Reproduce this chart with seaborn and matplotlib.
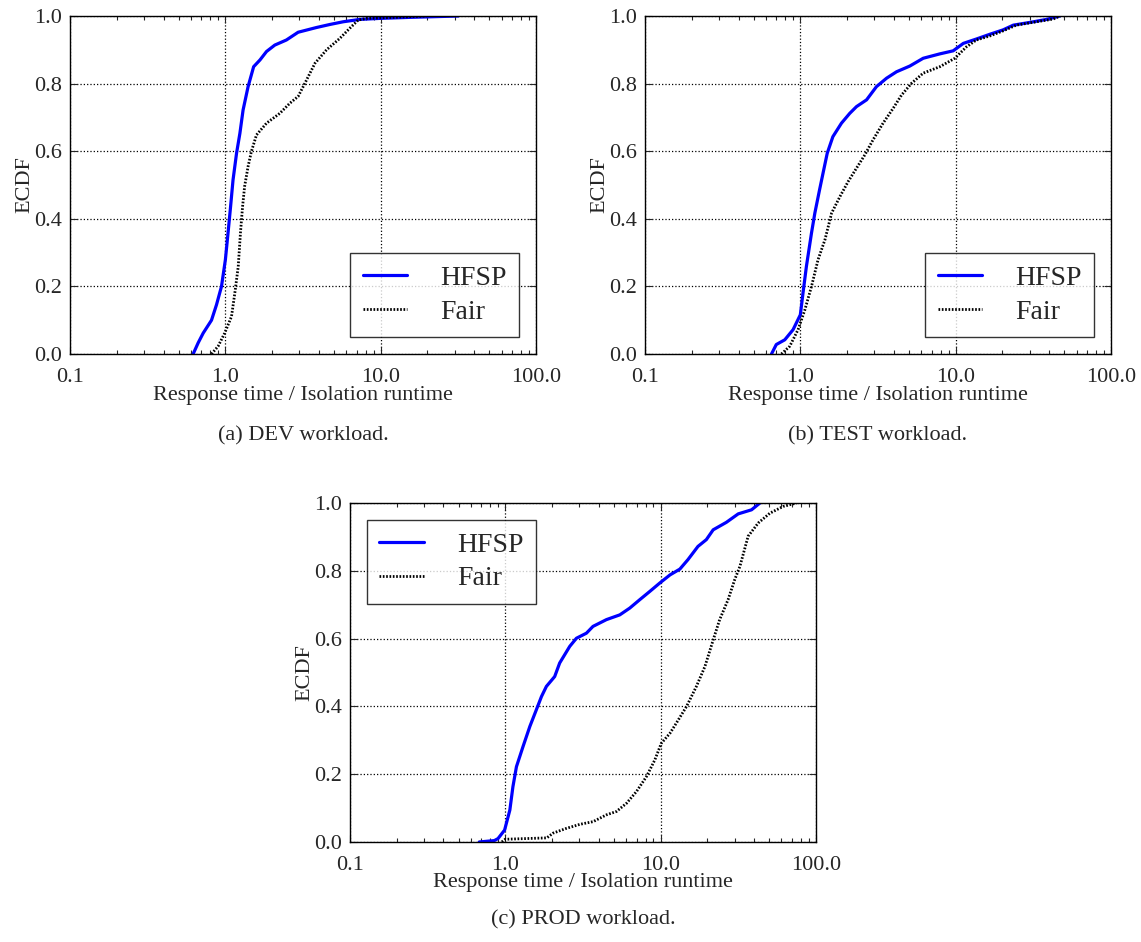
import pandas as pd
import matplotlib
matplotlib.use("Agg")
import matplotlib.pyplot as plt
import seaborn as sns
from matplotlib.ticker import FixedLocator, LogLocator, NullFormatter

# ECDF curves: ratio (response time / isolation runtime) vs ECDF
dev_hfsp_x = [0.62, 0.668, 0.72, 0.814, 0.877, 0.944, 1.0, 1.04, 1.08, 1.12, 1.18, 1.24, 1.30, 1.40, 1.52,
              1.67, 1.84, 2.08, 2.47, 2.94, 3.86, 4.71, 5.74, 7.35, 9.9, 15.4, 31.6]
dev_hfsp_y = [0.0, 0.033, 0.062, 0.10, 0.146, 0.20, 0.279, 0.358, 0.436, 0.515, 0.594, 0.653, 0.722, 0.791, 0.850,
              0.870, 0.895, 0.914, 0.929, 0.952, 0.966, 0.975, 0.983, 0.990, 0.993, 0.996, 1.0]
dev_fair_x = [0.814, 0.898, 0.99, 1.095, 1.15, 1.21, 1.25, 1.29, 1.33, 1.40, 1.47, 1.585, 1.84, 2.24, 2.60,
              2.94, 3.25, 3.77, 4.48, 5.46, 6.33, 7.16, 8.11, 12.0, 19.7]
dev_fair_y = [0.0, 0.023, 0.062, 0.111, 0.18, 0.259, 0.358, 0.436, 0.496, 0.555, 0.599, 0.648, 0.683, 0.712, 0.742,
              0.762, 0.801, 0.860, 0.900, 0.934, 0.964, 0.988, 0.993, 0.996, 1.0]

test_hfsp_x = [0.652, 0.70, 0.794, 0.898, 1.0, 1.04, 1.094, 1.18, 1.24, 1.33, 1.40, 1.49, 1.62, 1.84, 2.08, 2.30,
               2.67, 3.09, 3.59, 4.16, 5.07, 6.18, 7.91, 9.64, 11.2, 13.6, 16.6, 20.2, 23.5, 30.0, 38.5, 46.9]
test_hfsp_y = [0.0, 0.028, 0.042, 0.072, 0.116, 0.18, 0.259, 0.358, 0.417, 0.486, 0.535, 0.594, 0.643, 0.683, 0.712,
               0.732, 0.752, 0.791, 0.816, 0.835, 0.852, 0.875, 0.888, 0.897, 0.919, 0.932, 0.946, 0.959, 0.973,
               0.981, 0.990, 1.0]
test_fair_x = [0.755, 0.855, 0.967, 1.07, 1.18, 1.30, 1.44, 1.59, 1.80, 2.03, 2.30, 2.60, 2.94, 3.41, 3.96, 4.48,
               5.20, 6.18, 7.91, 9.88, 11.75, 13.6, 16.6, 20.2, 24.6, 33.2, 42.5, 46.9]
test_fair_y = [0.0, 0.023, 0.072, 0.131, 0.20, 0.279, 0.338, 0.417, 0.466, 0.510, 0.550, 0.589, 0.634, 0.683, 0.727,
               0.766, 0.801, 0.831, 0.850, 0.875, 0.909, 0.929, 0.941, 0.956, 0.973, 0.983, 0.991, 1.0]

prod_hfsp_x = [0.68, 0.85, 0.898, 0.99, 1.07, 1.12, 1.18, 1.30, 1.44, 1.585, 1.71, 1.84, 2.08, 2.24, 2.60, 2.87,
               3.33, 3.67, 4.48, 5.46, 6.33, 7.35, 8.51, 9.88, 11.5, 13.3, 15.0, 17.4, 19.7, 21.8, 26.5, 31.6,
               38.5, 43.6]
prod_hfsp_y = [0.0, 0.004, 0.01, 0.035, 0.094, 0.163, 0.222, 0.281, 0.341, 0.390, 0.429, 0.459, 0.488, 0.528,
               0.577, 0.601, 0.616, 0.636, 0.656, 0.670, 0.690, 0.715, 0.739, 0.764, 0.788, 0.805, 0.833, 0.872,
               0.892, 0.921, 0.943, 0.968, 0.980, 1.0]
prod_fair_x = [0.95, 1.0, 1.85, 2.03, 2.47, 3.02, 3.68, 4.48, 5.20, 6.03, 7.0, 8.11, 9.18, 10.1, 11.5, 12.6, 14.7,
               17.0, 19.3, 21.8, 24.0, 27.2, 30.0, 32.4, 36.6, 42.5, 50.5, 61.6, 75.0]
prod_fair_y = [0.0, 0.008, 0.012, 0.026, 0.040, 0.052, 0.060, 0.080, 0.090, 0.114, 0.149, 0.193, 0.242, 0.291,
               0.321, 0.350, 0.400, 0.459, 0.518, 0.596, 0.656, 0.715, 0.774, 0.813, 0.902, 0.941, 0.970, 0.990, 1.0]

x_ticks = [0.1, 1.0, 10.0, 100.0]
x_tick_labels = ["0.1", "1.0", "10.0", "100.0"]
y_ticks = [0.0, 0.2, 0.4, 0.6, 0.8, 1.0]
y_tick_labels = ["0.0", "0.2", "0.4", "0.6", "0.8", "1.0"]

sns.set_style("ticks")
plt.rcParams["font.family"] = ["Liberation Serif", "DejaVu Serif"]

fig = plt.figure(figsize=(11.41, 9.42), dpi=100)
ax_a = fig.add_axes([0.0614, 0.6242, 0.4084, 0.3588])
ax_b = fig.add_axes([0.5653, 0.6242, 0.4084, 0.3588])
ax_c = fig.add_axes([0.3067, 0.1062, 0.4084, 0.3598])

panels = [
    (ax_a, dev_hfsp_x, dev_hfsp_y, dev_fair_x, dev_fair_y, "lower right", "(a) DEV workload.", -0.214),
    (ax_b, test_hfsp_x, test_hfsp_y, test_fair_x, test_fair_y, "lower right", "(b) TEST workload.", -0.214),
    (ax_c, prod_hfsp_x, prod_hfsp_y, prod_fair_x, prod_fair_y, "upper left", "(c) PROD workload.", -0.2),
]

for ax, hx, hy, fx, fy, loc, caption, cap_y in panels:
    sns.lineplot(x=hx, y=hy, ax=ax, color="#0000ff", lw=2.3, label="HFSP", estimator=None)
    sns.lineplot(x=fx, y=fy, ax=ax, color="black", lw=2.0, linestyle=(0, (0.6, 0.6)), label="Fair",
                 estimator=None)
    ax.set_xscale("log")
    ax.set_xlim(0.1, 100)
    ax.set_ylim(0, 1)
    ax.xaxis.set_major_locator(FixedLocator(x_ticks))
    ax.set_xticklabels(x_tick_labels)
    ax.xaxis.set_minor_locator(LogLocator(base=10, subs=range(2, 10)))
    ax.xaxis.set_minor_formatter(NullFormatter())
    ax.set_yticks(y_ticks)
    ax.set_yticklabels(y_tick_labels)
    ax.tick_params(which="both", direction="in", top=True, right=True, labelsize=16, width=0.8)
    ax.tick_params(axis="x", pad=10)
    ax.tick_params(axis="y", pad=5.5)
    ax.tick_params(which="major", length=5)
    ax.tick_params(which="minor", length=3)
    ax.grid(True, which="major", color="black", linestyle=":", linewidth=0.9)
    for s in ax.spines.values():
        s.set_linewidth(1.0)
        s.set_color("black")
    ax.set_xlabel("Response time / Isolation runtime", fontsize=16, labelpad=-1)
    ax.set_ylabel("ECDF", fontsize=16, labelpad=0)
    leg = ax.legend(loc=loc, fontsize=20, frameon=True, fancybox=False, edgecolor="black",
                    handlelength=1.6, handletextpad=1.2, borderpad=0.45, labelspacing=0.3,
                    borderaxespad=0.6)
    leg.get_frame().set_linewidth(1.0)
    ax.text(0.5, cap_y, caption, transform=ax.transAxes, ha="center", va="top", fontsize=16)

fig.savefig("out.png", dpi=100)
